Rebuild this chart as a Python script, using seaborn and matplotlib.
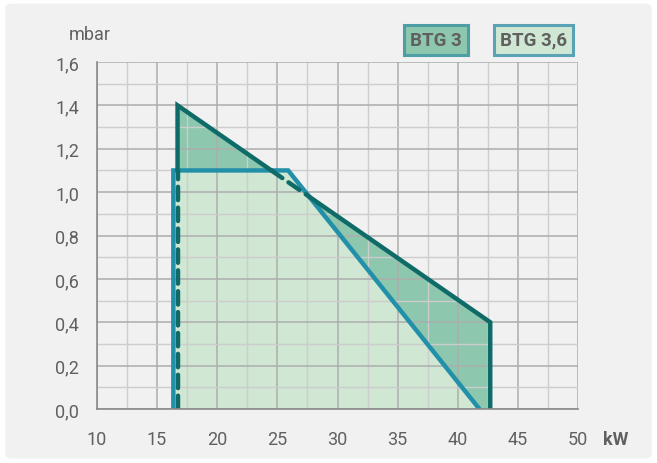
import matplotlib
matplotlib.use('Agg')
import matplotlib.pyplot as plt
import seaborn as sns
import pandas as pd
from matplotlib.patches import FancyBboxPatch

# outline points (kW, mbar)
btg3_kw = [16.7, 16.7, 42.7, 42.7]
btg3_mbar = [0.0, 1.4, 0.4, 0.0]
btg36_kw = [16.35, 16.35, 25.9, 41.8]
btg36_mbar = [0.0, 1.1, 1.1, 0.0]
series = ['BTG 3', 'BTG 3,6']
x_ticks = [10, 15, 20, 25, 30, 35, 40, 45, 50]
y_ticks = [0.0, 0.2, 0.4, 0.6, 0.8, 1.0, 1.2, 1.4, 1.6]

dark_line = '#0e6b68'
dark_fill = '#8cc7ae'
blue_line = '#2390a9'
light_fill = '#cfe7d3'
bg = '#f1f1f1'
text_col = '#606060'

sns.set_theme(style='white')
plt.rcParams['font.family'] = ['Roboto', 'DejaVu Sans']

fig = plt.figure(figsize=(6.57, 4.64), dpi=100, facecolor='white')
fig.patches.append(FancyBboxPatch((0.008, 0.01), 0.984, 0.98,
                                  boxstyle='round,pad=0,rounding_size=0.01',
                                  transform=fig.transFigure, facecolor=bg,
                                  edgecolor='none', zorder=-10))
ax = fig.add_axes([0.1476, 0.1164, 0.7322, 0.7478])
ax.set_facecolor(bg)

df3 = pd.DataFrame({'kw': btg3_kw, 'mbar': btg3_mbar})
df36 = pd.DataFrame({'kw': btg36_kw, 'mbar': btg36_mbar})

# fills: dark first, light on top
ax.fill(df3['kw'], df3['mbar'], color=dark_fill, zorder=1, lw=0)
ax.fill(df36['kw'], df36['mbar'], color=light_fill, zorder=1.1, lw=0)

# grid (major every 5 kW / 0.2 mbar, minor halfway)
minor_x = [10 + 2.5 * i for i in range(17)]
minor_y = [0.1 * i for i in range(17)]
for xv in minor_x:
    major = (xv % 5 == 0)
    ax.axvline(xv, color='#adadad' if major else '#cdcdcd', lw=1.1 if major else 1.0, zorder=2)
for i, yv in enumerate(minor_y):
    major = (i % 2 == 0)
    ax.axhline(yv, color='#adadad' if major else '#cdcdcd', lw=1.1 if major else 1.0, zorder=2)

# BTG 3,6 outline
sns.lineplot(x=df36['kw'], y=df36['mbar'], sort=False, estimator=None, ax=ax,
             color=blue_line, lw=3.2, zorder=4, solid_capstyle='round', solid_joinstyle='miter')

# BTG 3 outline: solid where visible, dashed where under BTG 3,6
s36 = (btg36_mbar[2] - btg36_mbar[3]) / (btg36_kw[3] - btg36_kw[2])
s3 = (btg3_mbar[1] - btg3_mbar[2]) / (btg3_kw[2] - btg3_kw[1])
x_cross = btg3_kw[1] + (btg3_mbar[1] - btg36_mbar[1]) / s3
x_int = (btg36_mbar[2] + s36 * btg36_kw[2] - btg3_mbar[1] - s3 * btg3_kw[1]) / (s36 - s3)
y_at = lambda x: btg3_mbar[1] - s3 * (x - btg3_kw[1])

dash = (0, (3.0, 1.7))
ax.plot([btg3_kw[0], btg3_kw[0]], [0.0, btg36_mbar[1]], color=dark_line, lw=3.2, ls=dash,
        zorder=5, dash_capstyle='round')
ax.plot([btg3_kw[1], btg3_kw[1], x_cross], [btg36_mbar[1], btg3_mbar[1], btg36_mbar[1]],
        color=dark_line, lw=3.2, zorder=5, solid_joinstyle='miter')
ax.plot([x_cross, x_int], [btg36_mbar[1], y_at(x_int)], color=dark_line, lw=3.2, ls=dash,
        zorder=5, dash_capstyle='round')
ax.plot([x_int, btg3_kw[2], btg3_kw[3]], [y_at(x_int), btg3_mbar[2], btg3_mbar[3]],
        color=dark_line, lw=3.2, zorder=5, solid_joinstyle='miter')

ax.set_xlim(10, 50)
ax.set_ylim(0, 1.6)
ax.set_xticks(x_ticks)
ax.set_yticks(y_ticks)
ax.set_xticklabels([str(v) for v in x_ticks])
ax.set_yticklabels([f'{v:.1f}'.replace('.', ',') for v in y_ticks])
ax.tick_params(axis='both', direction='out', length=7, width=1.2, color='#8a8a8a',
               labelsize=13, labelcolor=text_col)
ax.tick_params(axis='y', pad=6)
ax.tick_params(axis='x', pad=8)
for side in ['top', 'right']:
    ax.spines[side].set_visible(False)
for side in ['left', 'bottom']:
    ax.spines[side].set_color('#8a8a8a')
    ax.spines[side].set_linewidth(1.2)
    ax.spines[side].set_zorder(6)
ax.set_xlabel('')
ax.set_ylabel('')

fig.text(0.137, 0.924, 'mbar', ha='center', va='center', fontsize=13, color=text_col)
fig.text(0.937, 0.051, 'kW', ha='center', va='center', fontsize=13, color=text_col,
         fontweight='bold')

# legend boxes
fig.text(0.664, 0.912, series[0], ha='center', va='center', fontsize=13.5, color=text_col,
         fontweight='bold',
         bbox=dict(boxstyle='square,pad=0.32', facecolor=dark_fill, edgecolor='#4e9ea6', lw=2.2))
fig.text(0.812, 0.912, series[1], ha='center', va='center', fontsize=13.5, color=text_col,
         fontweight='bold',
         bbox=dict(boxstyle='square,pad=0.32', facecolor=light_fill, edgecolor='#5aa3b6', lw=2.2))

fig.savefig('out.png', dpi=100, facecolor='white')
